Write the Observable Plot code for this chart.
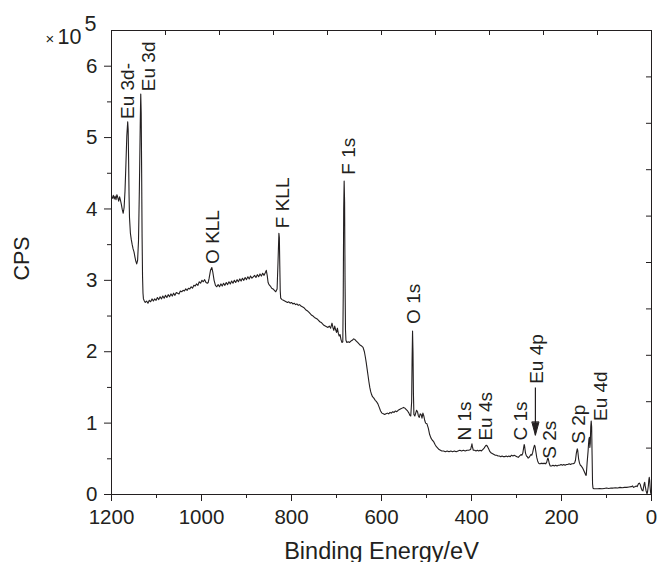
<!DOCTYPE html>
<html><head><meta charset="utf-8">
<script src="https://cdn.jsdelivr.net/npm/d3@7"></script>
<script src="https://cdn.jsdelivr.net/npm/@observablehq/plot@0.6"></script>
<style>
html,body{margin:0;padding:0;background:#fff;}
#chart svg{display:block;}
</style></head><body><div id="chart"></div>
<script>
// Binding energy (eV) and counts (CPS, in units of 10^5)
const energy = [
1200,1198,1196,1194,1192,1190,1188,1186,1184,1182,
1180,1178,1176,1174,1172,1170,1168,1166,1164,1163,
1162,1161,1160,1158,1156,1154,1152,1150,1148,1146,
1144,1142,1140,1138,1136,1135,1134,1133,1132,1131,
1130,1129,1127,1125,1122,1119,1116,1113,1110,1107,
1104,1101,1098,1095,1092,1089,1086,1083,1080,1077,
1074,1071,1068,1065,1062,1059,1056,1053,1050,1047,
1044,1041,1038,1035,1032,1029,1026,1023,1020,1017,
1014,1011,1008,1005,1002,999,996,993,990,987,
985,983,980,977,975,972,969,966,963,960,
957,954,951,948,945,942,939,936,933,930,
927,924,921,918,915,912,909,906,903,900,
897,894,891,888,885,882,879,876,873,870,
867,864,861,858,856,854,852,850,847,844,
841,838,835,832,830,828,827,826,825,824,
821,818,815,812,809,806,803,800,797,794,
791,788,785,782,779,776,773,770,767,764,
761,758,755,752,749,746,743,740,737,734,
731,728,725,722,719,716,713,710,708,706,
704,702,700,698,696,694,692,690,688,686,
685,684,683,682,681,680,679,677,674,671,
668,665,662,659,656,653,650,647,644,641,
638,636,634,632,630,628,626,624,622,620,
617,614,611,608,605,602,599,596,593,590,
587,584,581,578,575,572,569,566,563,560,
557,554,551,548,545,542,539,537,535,533,
532,531,530,529,528,526,524,522,520,518,
516,514,512,510,508,506,504,502,499,496,
493,490,487,484,481,478,475,472,469,466,
462,458,454,450,446,442,438,434,430,426,
422,418,414,410,406,402,400,399,398,396,
393,390,387,384,381,378,375,372,369,367,
365,362,359,356,353,350,347,344,341,338,
335,332,329,326,323,320,317,314,311,308,
305,302,299,296,293,290,288,286,284,283,
282,280,278,276,274,272,270,268,266,264,
262,260,259,257,255,253,251,249,247,245,
243,241,239,237,235,233,231,230,229,227,
225,222,219,216,213,210,207,204,201,198,
195,192,189,186,183,180,177,174,171,169,
167,165,164,162,160,158,156,153,150,148,
146,145,143,141,140,139,138,137,136,135,
134,133,132,131,130,128,125,120,115,110,
105,100,95,90,85,80,75,70,65,60,
55,50,45,42,40,37,34,32,29,27,
25,23,21,19,18,16,15,14,12,10,
9,7,6,5,4,3,2,1,0
];
const cps = [
4.17,4.15,4.19,4.14,4.18,4.13,4.20,4.16,4.11,4.17,
4.12,4.06,3.99,3.94,4.02,4.25,4.62,5.02,5.22,5.12,
4.70,4.20,3.88,3.66,3.57,3.50,3.44,3.40,3.33,3.27,
3.23,3.28,3.55,4.30,5.25,5.61,5.35,4.50,3.60,3.05,
2.82,2.74,2.71,2.69,2.71,2.68,2.72,2.70,2.74,2.71,
2.74,2.72,2.76,2.73,2.77,2.74,2.78,2.75,2.79,2.76,
2.80,2.77,2.81,2.78,2.82,2.79,2.83,2.82,2.81,2.85,
2.84,2.86,2.85,2.88,2.86,2.89,2.88,2.91,2.89,2.93,
2.92,2.95,2.93,2.98,2.96,3.00,2.98,3.01,2.97,2.96,
2.97,3.03,3.14,3.18,3.12,3.00,2.93,2.91,2.94,2.91,
2.95,2.92,2.96,2.93,2.97,2.94,2.98,2.95,2.99,2.96,
3.00,2.97,3.01,2.98,3.02,2.99,3.03,3.00,3.04,3.01,
3.05,3.02,3.06,3.03,3.05,3.07,3.04,3.08,3.05,3.09,
3.06,3.10,3.07,3.11,3.14,3.07,2.97,2.94,2.92,2.89,
2.88,2.86,2.84,2.88,3.25,3.66,3.60,3.20,2.85,2.75,
2.73,2.72,2.71,2.70,2.69,2.70,2.68,2.69,2.67,2.68,
2.66,2.67,2.65,2.66,2.64,2.63,2.62,2.60,2.58,2.57,
2.55,2.53,2.51,2.50,2.48,2.47,2.46,2.44,2.42,2.41,
2.39,2.37,2.36,2.35,2.34,2.36,2.33,2.40,2.34,2.30,
2.36,2.31,2.27,2.33,2.26,2.22,2.24,2.17,2.13,2.14,
2.80,4.00,4.39,4.10,3.00,2.30,2.16,2.13,2.14,2.13,
2.15,2.16,2.18,2.17,2.15,2.13,2.11,2.09,2.08,2.06,
2.00,1.93,1.85,1.76,1.67,1.58,1.50,1.44,1.40,1.37,
1.35,1.32,1.30,1.27,1.22,1.17,1.14,1.13,1.12,1.13,
1.14,1.13,1.15,1.14,1.16,1.15,1.17,1.16,1.18,1.19,
1.20,1.21,1.22,1.21,1.19,1.17,1.14,1.11,1.10,1.30,
1.90,2.29,2.00,1.40,1.12,1.10,1.14,1.18,1.16,1.10,
1.08,1.13,1.12,1.07,1.14,1.10,1.04,1.00,0.99,0.93,
0.84,0.79,0.76,0.74,0.70,0.67,0.65,0.63,0.62,0.61,
0.61,0.60,0.61,0.60,0.61,0.60,0.61,0.60,0.61,0.62,
0.61,0.62,0.61,0.62,0.62,0.63,0.68,0.71,0.67,0.62,
0.62,0.61,0.62,0.61,0.62,0.61,0.63,0.65,0.68,0.69,
0.68,0.64,0.60,0.58,0.57,0.56,0.55,0.55,0.54,0.54,
0.53,0.54,0.53,0.53,0.54,0.53,0.54,0.53,0.55,0.54,
0.55,0.54,0.53,0.52,0.54,0.56,0.55,0.58,0.66,0.70,
0.68,0.58,0.54,0.53,0.51,0.52,0.54,0.56,0.55,0.59,
0.65,0.69,0.68,0.60,0.52,0.47,0.44,0.43,0.43,0.44,
0.43,0.44,0.43,0.44,0.43,0.45,0.50,0.51,0.49,0.43,
0.40,0.40,0.41,0.40,0.41,0.40,0.41,0.41,0.42,0.41,
0.42,0.41,0.42,0.42,0.43,0.42,0.43,0.43,0.44,0.48,
0.58,0.64,0.62,0.50,0.44,0.41,0.40,0.37,0.33,0.30,
0.27,0.27,0.45,0.60,0.70,0.78,0.80,0.66,0.72,0.95,
1.03,0.95,0.55,0.15,0.09,0.08,0.08,0.08,0.085,0.08,
0.085,0.09,0.085,0.09,0.09,0.095,0.09,0.10,0.095,0.10,
0.10,0.105,0.11,0.12,0.10,0.11,0.12,0.11,0.15,0.16,
0.14,0.09,0.06,0.05,0.09,0.16,0.17,0.12,0.05,0.01,
0.03,0.12,0.20,0.24,0.20,0.10,0.03,0.00,0.00
];

// Peak labels
const peakNames = ["Eu 3d-","Eu 3d","O KLL","F KLL","F 1s","O 1s","N 1s","Eu 4s","C 1s","Eu 4p","S 2s","S 2p","Eu 4d"];
const peakLabelE = [1163,1117,974,820,673,528,414,369,291,254,225,162,113];
const peakLabelY = [5.26,5.65,3.23,3.73,4.48,2.39,0.755,0.755,0.755,1.55,0.50,0.71,1.03];

// Eu 4p arrow (energy, top, tip)
const arrowE = [258];
const arrowTop = [1.50];
const arrowTip = [0.83];

// Axes
const xMajor = [0,200,400,600,800,1000,1200];
const xMinor = [100,300,500,700,900,1100];
const yMajor = [0,1,2,3,4,5,6];
const yMinor = [0.5,1.5,2.5,3.5,4.5,5.5];
const xTop = [120,240,360,480,600,720,840,960,1080];
const yRight = [0.65,1.3,1.95,2.6,3.25,3.9,4.55,5.2,5.85];

const spectrum = energy.map((e,i) => ({e, v: cps[i]}));
const peaks = peakNames.map((n,i) => ({n, e: peakLabelE[i], v: peakLabelY[i]}));
const arrows = arrowE.map((e,i) => ({e, top: arrowTop[i], tip: arrowTip[i]}));

const W = 657, H = 562;
const mT = 30, mB = 68, mL = 111, mR = 6;
const innerH = H - mT - mB, innerW = W - mL - mR;
const ink = "#231f20";

const headShape = {
  draw(context, l, r) {
    context.moveTo(-3.5, -l + 13);
    context.lineTo(0, -l);
    context.lineTo(3.5, -l + 13);
    context.closePath();
  }
};

const chart = Plot.plot({
  width: W, height: H,
  marginTop: mT, marginBottom: mB, marginLeft: mL, marginRight: mR,
  style: {fontFamily: "'Liberation Sans', Arial, Helvetica, sans-serif", color: ink, background: "#fff"},
  x: {domain: [1200, 0]},
  y: {domain: [0, 6.5]},
  marks: [
    Plot.axisX(xMajor, {tickSize: 7, tickPadding: 8, fontSize: 20.5, tickFormat: d => String(d), label: null, stroke: ink}),
    Plot.axisX(xMinor, {tickSize: 4, tickFormat: () => "", label: null, stroke: ink}),
    Plot.axisY(yMajor, {tickSize: 7, tickPadding: 7, fontSize: 20.5, tickFormat: d => String(d), label: null, stroke: ink}),
    Plot.axisY(yMinor, {tickSize: 4, tickFormat: () => "", label: null, stroke: ink}),
    Plot.tickX(xTop, {x: d => d, insetBottom: innerH - 5, stroke: ink}),
    Plot.tickY(yRight, {y: d => d, insetLeft: innerW - 5, stroke: ink}),
    Plot.frame({stroke: ink, strokeWidth: 1}),
    Plot.line(spectrum, {x: "e", y: "v", stroke: ink, strokeWidth: 1.1, strokeLinejoin: "round"}),
    Plot.text(peaks, {x: "e", y: "v", text: "n", rotate: -90, textAnchor: "start", lineAnchor: "middle", fontSize: 19, fill: ink}),
    Plot.link(arrows, {x1: "e", x2: "e", y1: "top", y2: "tip", stroke: ink, strokeWidth: 1.2}),
    Plot.vector(arrows, {x: "e", y: "tip", length: 13, rotate: 180, anchor: "end", shape: headShape, fill: ink, stroke: ink, strokeWidth: 1}),
    Plot.text(["CPS"], {frameAnchor: "left", dx: -89, dy: 18, rotate: -90, fontSize: 21.5, fill: ink}),
    Plot.text(["Binding Energy/eV"], {frameAnchor: "bottom", dy: 64, lineAnchor: "bottom", fontSize: 23.5, fill: ink}),
    Plot.text(["\u00d7"], {frameAnchor: "top-left", dx: -66, dy: 13, textAnchor: "start", lineAnchor: "bottom", fontSize: 15, fill: ink}),
    Plot.text(["10"], {frameAnchor: "top-left", dx: -54, dy: 13, textAnchor: "start", lineAnchor: "bottom", fontSize: 21.5, fill: ink}),
    Plot.text(["5"], {frameAnchor: "top-left", dx: -27, dy: 0, textAnchor: "start", lineAnchor: "bottom", fontSize: 21.5, fill: ink})
  ]
});
document.getElementById("chart").appendChild(chart);
</script>
</body></html>
